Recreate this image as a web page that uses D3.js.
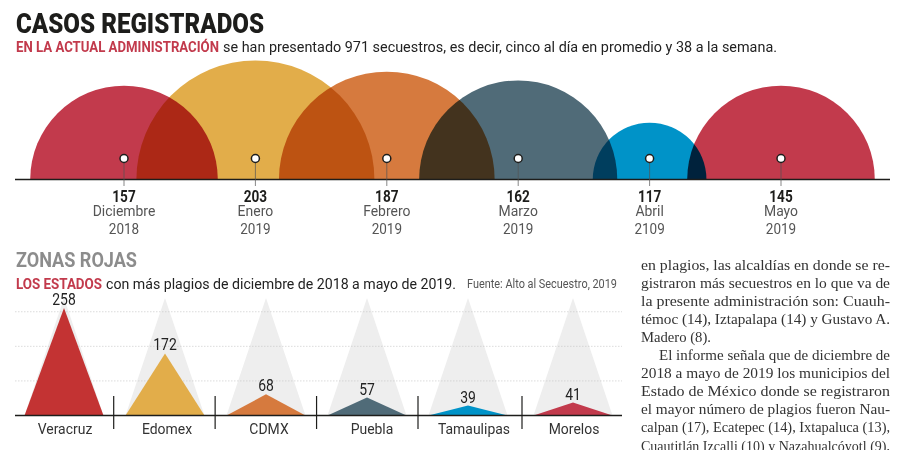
<!DOCTYPE html>
<html>
<head>
<meta charset="utf-8">
<style>
  html, body { margin: 0; padding: 0; background: #fff; overflow: hidden; }
  svg { display: block; isolation: isolate; background: #fff; }
  text { font-family: Roboto, "Noto Sans", sans-serif; }
</style>
</head>
<body>
<div id="chart"></div>
<script src="https://cdn.jsdelivr.net/npm/d3@7"></script>
<script>
// casos por mes
const months = ["Diciembre", "Enero", "Febrero", "Marzo", "Abril", "Mayo"];
const years = ["2018", "2019", "2019", "2019", "2109", "2019"];
const cases = [157, 203, 187, 162, 117, 145];
// the domes are not quite proportional to their labels, so this is what is drawn
const domeSize = [160, 203, 184, 169, 97, 160];
const domeColors = ["#c23a4c", "#e2ad4a", "#d67a3e", "#506b78", "#0093c8", "#c23a4c"];

// zonas rojas
const states = ["Veracruz", "Edomex", "CDMX", "Puebla", "Tamaulipas", "Morelos"];
const kidnappings = [258, 172, 68, 57, 39, 41];
const peakSize = [258, 149, 51, 43, 24, 31];
const peakBackground = 282;
const gridValues = [83, 166, 249];
const peakColors = ["#c33333", "#e2ad4a", "#d67a3e", "#506b78", "#0093c8", "#c23a4c"];

// column text
const paragraph = [
  "en plagios, las alcaldías en donde se re-",
  "gistraron más secuestros en lo que va de",
  "la presente administración son: Cuauh-",
  "témoc (14), Iztapalapa (14) y Gustavo A.",
  "Madero (8).",
  "El informe señala que de diciembre de",
  "2018 a mayo de 2019 los municipios del",
  "Estado de México donde se registraron",
  "el mayor número de plagios fueron Nau-",
  "calpan (17), Ecatepec (14), Ixtapaluca (13),",
  "Cuautitlán Izcalli (10) y Nazahualcóyotl (9),"
];

const svg = d3.select("#chart").append("svg")
  .attr("width", 900)
  .attr("height", 450);

function label(g, str, x, y, size, opts) {
  opts = opts || {};
  let t = g.append("text")
    .attr("x", x)
    .attr("y", y)
    .attr("font-size", size)
    .attr("font-weight", opts.weight || 400)
    .attr("fill", opts.color || "#222")
    .attr("text-anchor", opts.anchor || "start")
    .text(str);
  if (opts.squeeze) {
    opts.width = t.node().getComputedTextLength() * opts.squeeze;
  }
  if (opts.width) {
    t.attr("textLength", opts.width).attr("lengthAdjust", "spacingAndGlyphs");
  }
  return t;
}

// headers
label(svg, "CASOS REGISTRADOS", 16, 32.5, 27, {weight: 900, width: 248, color: "#1d1d1b"});
label(svg, "EN LA ACTUAL ADMINISTRACIÓN", 16, 51.5, 15, {weight: 700, color: "#c23a4c", width: 203});
label(svg, "se han presentado 971 secuestros, es decir, cinco al día en promedio y 38 a la semana.", 223, 51.5, 15, {width: 554});

label(svg, "ZONAS ROJAS", 16, 267, 20, {weight: 700, color: "#8c8c8c", width: 121});
label(svg, "LOS ESTADOS", 16, 288.5, 15, {weight: 700, color: "#c23a4c", width: 86});
label(svg, "con más plagios de diciembre de 2018 a mayo de 2019.", 106, 288.5, 15, {width: 350});
label(svg, "Fuente: Alto al Secuestro, 2019", 467, 288, 12.5, {color: "#555", width: 150});

// domes
const domeBase = 179.5;
const domeX = d3.scalePoint().domain(months).range([124, 781]);
const domeR = d3.scaleLinear().domain([0, 203]).range([0, 119]);
const domeArc = d3.arc()
  .innerRadius(0)
  .startAngle(-Math.PI / 2)
  .endAngle(Math.PI / 2);

svg.append("g").selectAll("path")
  .data(months)
  .enter()
  .append("path")
  .attr("transform", d => "translate(" + domeX(d) + "," + domeBase + ")")
  .attr("d", (d, i) => domeArc({outerRadius: domeR(domeSize[i])}))
  .attr("fill", (d, i) => domeColors[i])
  .style("mix-blend-mode", "multiply");

svg.append("line")
  .attr("x1", 15).attr("x2", 890)
  .attr("y1", domeBase).attr("y2", domeBase)
  .attr("stroke", "#1d1d1b")
  .attr("stroke-width", 1.6);

const domeMarks = svg.append("g").selectAll("g")
  .data(months)
  .enter()
  .append("g")
  .attr("transform", d => "translate(" + domeX(d) + ",0)");

domeMarks.append("line")
  .attr("y1", 158.5).attr("y2", 186)
  .attr("stroke", "#555")
  .attr("stroke-width", 0.7);
domeMarks.append("circle")
  .attr("cy", 158.5)
  .attr("r", 4)
  .attr("fill", "#fff")
  .attr("stroke", "#1d1d1b")
  .attr("stroke-width", 1.5);

domeMarks.each(function (d, i) {
  let g = d3.select(this);
  label(g, cases[i], 0, 201.5, 16, {weight: 700, anchor: "middle", color: "#1d1d1b", squeeze: 0.85});
  label(g, d, 0, 216, 15, {anchor: "middle", color: "#555", squeeze: 0.93});
  label(g, years[i], 0, 234, 15, {anchor: "middle", color: "#555", squeeze: 0.9});
});

// peaks
const peakBase = 415.5;
const peakHalf = 39.5;
const peakX = d3.scaleLinear().domain([0, 4, 5]).range([64, 468, 573]);
const labelX = d3.scaleLinear().domain([0, 2, 3, 4, 5]).range([65, 269, 372, 474, 574]);
const dividerX = d3.scaleLinear().domain([0.5, 3.5, 4.5]).range([113.7, 418, 522]);
const peakY = d3.scaleLinear().domain([0, 258]).range([peakBase, 308]);

const peakPath = (i, v) => d3.line()([
  [peakX(i) - peakHalf, peakY(0)],
  [peakX(i), peakY(v)],
  [peakX(i) + peakHalf, peakY(0)]
]);

svg.append("g").selectAll("path")
  .data(states)
  .enter()
  .append("path")
  .attr("d", (d, i) => peakPath(i, peakBackground))
  .attr("fill", "#eeeeee");

svg.append("g").selectAll("line")
  .data(gridValues)
  .enter()
  .append("line")
  .attr("x1", 15).attr("x2", 622)
  .attr("y1", d => peakY(d)).attr("y2", d => peakY(d))
  .attr("stroke", "#c4c4c4")
  .attr("stroke-width", 0.6)
  .attr("stroke-dasharray", "1.5 1.5");

svg.append("g").selectAll("path")
  .data(states)
  .enter()
  .append("path")
  .attr("d", (d, i) => peakPath(i, peakSize[i]))
  .attr("fill", (d, i) => peakColors[i]);

svg.append("line")
  .attr("x1", 15).attr("x2", 622)
  .attr("y1", peakBase).attr("y2", peakBase)
  .attr("stroke", "#1d1d1b")
  .attr("stroke-width", 1.6);

svg.append("g").selectAll("line")
  .data(d3.range(0.5, 5))
  .enter()
  .append("line")
  .attr("x1", d => dividerX(d)).attr("x2", d => dividerX(d))
  .attr("y1", 396).attr("y2", 429)
  .attr("stroke", "#1d1d1b")
  .attr("stroke-width", 1.2);

states.forEach(function (d, i) {
  label(svg, kidnappings[i], peakX(i), peakY(peakSize[i]) - 3, 16, {anchor: "middle", squeeze: 0.87});
  label(svg, d, labelX(i), 434, 15, {anchor: "middle", color: "#333", squeeze: 0.93});
});

// text column at the right
paragraph.forEach(function (line, i) {
  let indent = i === 5 ? 18 : 0;
  let opts = {color: "#333"};
  if (i !== 4) opts.width = 249 - indent;
  else opts.width = 70;
  label(svg, line, 641 + indent, 270 + i * 18.05, 15, opts)
    .style("font-family", "'Liberation Serif', serif");
});
</script>
</body>
</html>
